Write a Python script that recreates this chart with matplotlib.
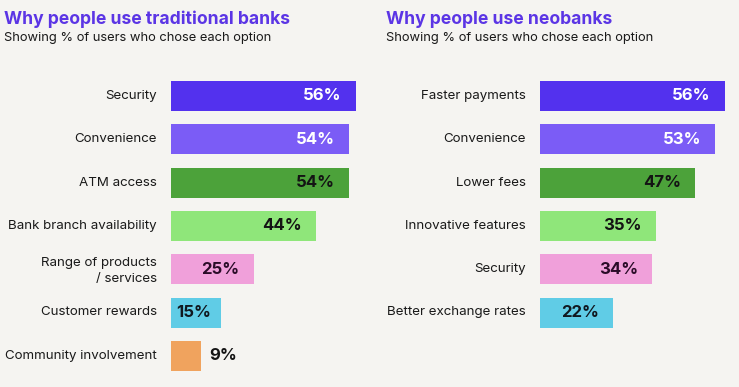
import matplotlib.pyplot as plt

plt.rcParams['font.family'] = ['Inter', 'DejaVu Sans']

trad_labels = ["Security", "Convenience", "ATM access", "Bank branch availability",
               "Range of products\n/ services", "Customer rewards", "Community involvement"]
trad_values = [56, 54, 54, 44, 25, 15, 9]

neo_labels = ["Faster payments", "Convenience", "Lower fees", "Innovative features",
              "Security", "Better exchange rates"]
neo_values = [56, 53, 47, 35, 34, 22]

colors = ['#5331EE', '#7B5CF6', '#4CA23A', '#8FE67A', '#F0A0DA', '#60CCE6', '#F0A35E']
text_colors = ['white', 'white', '#141414', '#141414', '#2a0c28', '#101820', '#141414']

bg = '#F5F4F1'
W, H = 739, 387
fig = plt.figure(figsize=(W / 100, H / 100), dpi=100, facecolor=bg)

px = 3.3          # pixels per percent
row = 43.3        # pixels per row
top = 96 - row / 2


def panel(x0, labels, values, title, tx):
    width_px = 199
    ax = fig.add_axes([x0 / W, 1 - (top + 7 * row) / H, width_px / W, 7 * row / H])
    ax.set_facecolor(bg)
    ax.set_xlim(0, width_px / px)
    ax.set_ylim(6.5, -0.5)
    ax.axis('off')
    ax.barh(range(len(values)), values, height=30 / row, color=colors[:len(values)])
    for i, (lab, v) in enumerate(zip(labels, values)):
        ax.text(-14 / px, i + (0.04 if '\n' in lab else 0), lab, ha='right', va='center',
                fontsize=9.6, color='#1a1a1a', multialignment='right', linespacing=1.5,
                clip_on=False)
        if v < 12:
            ax.text(v + 9 / px, i, f"{v}%", ha='left', va='center', fontsize=12,
                    fontweight='bold', color='#141414')
        else:
            off = 14 / px if v > 20 else 9 / px
            ax.text(v - off, i, f"{v}%", ha='right', va='center', fontsize=12,
                    fontweight='bold', color=text_colors[i])
    fig.text(tx / W, 1 - 24 / H, title, ha='left', va='baseline', fontsize=12.6,
             fontweight='bold', color='#5B35E5')
    fig.text(tx / W, 1 - 41 / H, "Showing % of users who chose each option", ha='left',
             va='baseline', fontsize=9.3, color='#1a1a1a')


panel(171, trad_labels, trad_values, "Why people use traditional banks", 4)
panel(540, neo_labels, neo_values, "Why people use neobanks", 386)

fig.savefig('out.png', dpi=100, facecolor=bg)
